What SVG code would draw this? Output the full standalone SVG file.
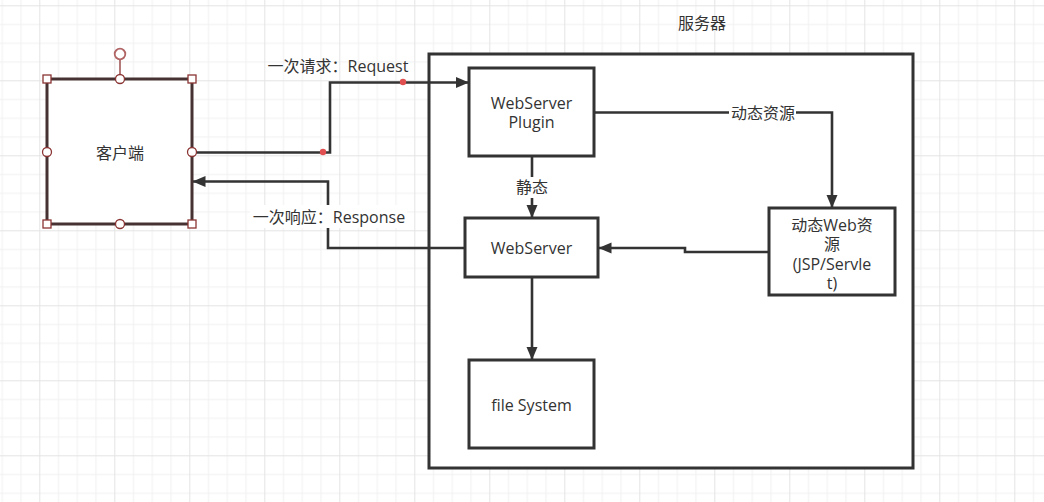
<svg xmlns="http://www.w3.org/2000/svg" width="1044" height="502" viewBox="0 0 1044 502">
  <defs>
    <pattern id="grid" x="-35.7" y="-69.7" width="75" height="75" patternUnits="userSpaceOnUse">
      <rect x="0" y="0" width="75" height="75" fill="#ffffff"/>
      <g fill="#f1f1f1">
        <rect x="18.75" y="0" width="1" height="75"/>
        <rect x="37.5" y="0" width="1" height="75"/>
        <rect x="56.25" y="0" width="1" height="75"/>
        <rect x="0" y="18.75" width="75" height="1"/>
        <rect x="0" y="37.5" width="75" height="1"/>
        <rect x="0" y="56.25" width="75" height="1"/>
      </g>
      <g fill="#e4e4e4">
        <rect x="0" y="0" width="1" height="75"/>
        <rect x="0" y="0" width="75" height="1"/>
      </g>
    </pattern>
    <marker id="arrow" markerUnits="userSpaceOnUse" markerWidth="14" markerHeight="12" refX="13" refY="5.5" orient="auto">
      <path d="M0,0 L13,5.5 L0,11 Z" fill="#333333"/>
    </marker>
    <style>
      .box { fill: #ffffff; stroke: #333333; stroke-width: 3; }
      .edge { fill: none; stroke: #333333; stroke-width: 2.6; marker-end: url(#arrow); }
      .txt { font-family: "Open Sans", "Noto Sans CJK SC", sans-serif; font-size: 16px; fill: #333333; text-anchor: middle; dominant-baseline: central; }
      .lbl-bg { fill: #ffffff; }
      .hsq { fill: #ffffff; stroke: #8b3434; stroke-width: 1.3; }
      .hci { fill: #ffffff; stroke: #8b3434; stroke-width: 1.3; }
      .wp { fill: #e05050; }
    </style>
  </defs>

  <rect x="0" y="0" width="1044" height="502" fill="url(#grid)"/>

  <g id="server-container">
    <rect class="box" x="429" y="54" width="484" height="414"/>
    <text class="txt" x="702" y="23">服务器</text>
  </g>

  <g id="connectors">
    <!-- request -->
    <polyline class="edge" points="192,152.5 330,152.5 330,82.5 469,82.5"/>
    <circle class="wp" cx="323" cy="152" r="3.2"/>
    <circle class="wp" cx="403" cy="82" r="3.2"/>
    <text class="txt" x="338" y="66">一次请求：Request</text>
    <!-- response -->
    <polyline class="edge" points="465,248 328,248 328,181.5 192.5,181.5"/>
    <rect class="lbl-bg" x="250" y="205" width="157" height="23"/>
    <text class="txt" x="329" y="216.5">一次响应：Response</text>
    <!-- plugin to dynamic -->
    <polyline class="edge" points="594,112.5 832,112.5 832,208"/>
    <rect class="lbl-bg" x="729" y="102" width="67" height="22"/>
    <text class="txt" x="763" y="113">动态资源</text>
    <!-- plugin to webserver (static) -->
    <polyline class="edge" points="532,156 532,218"/>
    <rect class="lbl-bg" x="514" y="177" width="36" height="21"/>
    <text class="txt" x="532" y="187">静态</text>
    <!-- dynamic to webserver -->
    <polyline class="edge" points="769,252 685,252 685,248 598.5,248"/>
    <!-- webserver to file system -->
    <polyline class="edge" points="532,277 532,360"/>
  </g>

  <g id="client">
    <rect x="47" y="79" width="145" height="145" fill="#ffffff" stroke="#463232" stroke-width="3"/>
    <text class="txt" x="120" y="153">客户端</text>
    <line x1="120" y1="59.5" x2="120" y2="79" stroke="#8b3434" stroke-width="1.3"/>
    <circle cx="120" cy="54" r="5.3" fill="#ffffff" stroke="#b06464" stroke-width="1.8"/>
    <rect class="hsq" x="43" y="75" width="8" height="8"/>
    <rect class="hsq" x="188" y="75" width="8" height="8"/>
    <rect class="hsq" x="43" y="220" width="8" height="8"/>
    <rect class="hsq" x="188" y="220" width="8" height="8"/>
    <circle class="hci" cx="120" cy="79" r="4.5"/>
    <circle class="hci" cx="47" cy="152" r="4.5"/>
    <circle class="hci" cx="192" cy="152" r="4.5"/>
    <circle class="hci" cx="120" cy="224" r="4.5"/>
  </g>

  <g id="webserver-plugin">
    <rect class="box" x="469" y="68" width="125" height="88"/>
    <text class="txt" x="531.5" y="103">WebServer</text>
    <text class="txt" x="531.5" y="122">Plugin</text>
  </g>

  <g id="webserver">
    <rect class="box" x="465" y="218" width="133" height="59"/>
    <text class="txt" x="531.5" y="248">WebServer</text>
  </g>

  <g id="file-system">
    <rect class="box" x="469" y="360" width="125" height="88"/>
    <text class="txt" x="531.5" y="405">file System</text>
  </g>

  <g id="dynamic-web">
    <rect class="box" x="769" y="208" width="126" height="87"/>
    <text class="txt" x="832" y="225">动态Web资</text>
    <text class="txt" x="832" y="244">源</text>
    <text class="txt" x="832" y="263.5">(JSP/Servle</text>
    <text class="txt" x="832" y="283">t)</text>
  </g>
</svg>
